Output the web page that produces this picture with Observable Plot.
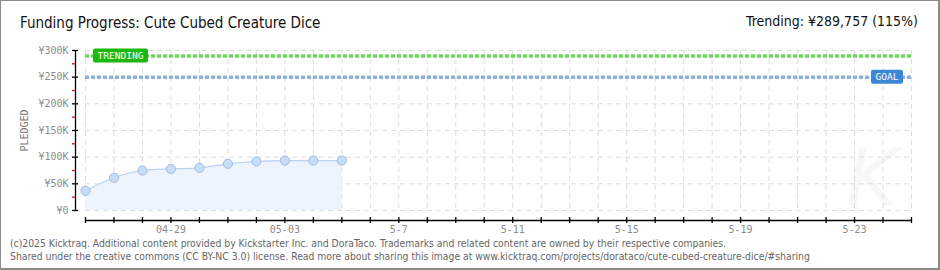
<!DOCTYPE html>
<html>
<head>
<meta charset="utf-8">
<script src="https://cdn.jsdelivr.net/npm/d3@7"></script>
<script src="https://cdn.jsdelivr.net/npm/@observablehq/plot@0.6"></script>
<style>
  html, body { margin: 0; padding: 0; background: #fff; }
  #wrap { position: relative; width: 940px; height: 270px; overflow: hidden; background: #fff; }
  #border { position: absolute; left: 0; top: 0; width: 940px; height: 270px; box-sizing: border-box;
            border: 1px solid #8a8a8a; border-right-width: 2px; border-bottom-width: 2px; pointer-events: none; }
  #title { position: absolute; left: 20px; top: 14px; font-family: "Liberation Sans Narrow", "DejaVu Sans Condensed", sans-serif;
           font-size: 15px; color: #111; white-space: nowrap; }
  #trend { position: absolute; right: 22px; top: 13px; font-family: "Liberation Sans Narrow", "DejaVu Sans Condensed", sans-serif;
           font-size: 14px; color: #111; white-space: nowrap; }
  #chart { position: absolute; left: 0; top: 40px; }
  #footer { position: absolute; left: 10px; top: 237px; font-family: "DejaVu Sans Condensed", "DejaVu Sans", sans-serif;
            font-size: 10.3px; line-height: 13px; color: #666; white-space: nowrap; }
</style>
</head>
<body>
<div id="wrap">
  <div id="title"></div>
  <div id="trend"></div>
  <div id="chart"></div>
  <div id="footer"></div>
  <div id="border"></div>
</div>
<script>
// ---- data ----
const titleText = "Funding Progress: Cute Cubed Creature Dice";
const trendText = "Trending:  ¥289,757 (115%)";
const footerLines = [
  "(c)2025 Kicktraq. Additional content provided by Kickstarter Inc. and DoraTaco. Trademarks and related content are owned by their respective companies.",
  "Shared under the creative commons (CC BY-NC 3.0) license. Read more about sharing this image at www.kicktraq.com/projects/dorataco/cute-cubed-creature-dice/#sharing"
];
const dates = ["2025-04-26","2025-04-27","2025-04-28","2025-04-29","2025-04-30","2025-05-01","2025-05-02","2025-05-03","2025-05-04","2025-05-05"];
const pledged = [36900, 61300, 75000, 78000, 80000, 87500, 91900, 93700, 93700, 93700];
const goal = 250000;
const trending = 289757;
const xDomain = ["2025-04-26", "2025-05-25"];
const xLabelDates = ["2025-04-29","2025-05-03","2025-05-07","2025-05-11","2025-05-15","2025-05-19","2025-05-23"];
const xLabels = ["04-29","05-03","5-7","5-11","5-15","5-19","5-23"];
const yTicks = [0, 50000, 100000, 150000, 200000, 250000, 300000];
const yTickLabels = ["¥0","¥50K","¥100K","¥150K","¥200K","¥250K","¥300K"];
const yMinorTicks = [25000, 75000, 125000, 175000, 225000, 275000];
const yLabel = "PLEDGED";
const trendLabel = "TRENDING";
const goalLabel = "GOAL";

document.getElementById("title").textContent = titleText;
document.getElementById("trend").textContent = trendText;
document.getElementById("footer").innerHTML = footerLines.map(s => `<div>${s}</div>`).join("");

const parse = d3.utcParse("%Y-%m-%d");
const data = dates.map((d, i) => ({date: parse(d), value: pledged[i]}));
const dom = xDomain.map(parse);
const dayTicks = d3.utcDay.range(dom[0], d3.utcDay.offset(dom[1], 1));
const labelMap = new Map(xLabelDates.map((d, i) => [+parse(d), xLabels[i]]));
const yLabelMap = new Map(yTicks.map((t, i) => [t, yTickLabels[i]]));

const tickFont = "DejaVu Sans Mono, monospace";

// TRENDING and GOAL badges positioned via scales
const badgeMark = (index, scales, values, dims) => {
  const {x, y} = scales;
  const g = d3.create("svg:g");
  const tY = y(trending);
  const gY = y(goal);
  const tx0 = x(dom[0]) + 8, tw = 55;
  g.append("rect").attr("x", tx0).attr("y", tY - 7).attr("width", tw).attr("height", 14)
    .attr("rx", 2).attr("fill", "#1db80f");
  g.append("text").attr("x", tx0 + tw / 2).attr("y", tY).attr("dy", "0.35em").attr("text-anchor", "middle")
    .attr("fill", "#fff").attr("font-family", tickFont).attr("font-size", 9.5)
    .text(trendLabel);
  const gw = 32, gx0 = x(dom[1]) - 8 - gw;
  g.append("rect").attr("x", gx0).attr("y", gY - 7).attr("width", gw).attr("height", 14)
    .attr("rx", 2).attr("fill", "#3a87d6");
  g.append("text").attr("x", gx0 + gw / 2).attr("y", gY).attr("dy", "0.35em").attr("text-anchor", "middle")
    .attr("fill", "#fff").attr("font-family", tickFont).attr("font-size", 9.5)
    .text(goalLabel);
  return g.node();
};

const plot = Plot.plot({
  width: 940,
  height: 200,
  marginLeft: 85,
  marginRight: 29,
  marginTop: 10,
  marginBottom: 30,
  style: {background: "transparent", overflow: "visible"},
  x: {type: "utc", domain: dom},
  y: {domain: [0, 300000]},
  marks: [
    Plot.text(["K"], {frameAnchor: "bottom-right", dx: -14, dy: -6, fontSize: 78, fontStyle: "italic",
      fontFamily: "DejaVu Sans, sans-serif", fill: "#f7f7f7"}),
    Plot.gridY(yTicks, {stroke: "#dcdcdc", strokeOpacity: 1, strokeDasharray: "5,4", strokeWidth: 1}),
    Plot.gridX(dayTicks, {stroke: "#dcdcdc", strokeOpacity: 1, strokeDasharray: "5,4", strokeWidth: 1}),
    Plot.areaY(data, {x: "date", y: "value", fill: "#edf4fd", curve: "monotone-x"}),
    Plot.lineY(data, {x: "date", y: "value", stroke: "#b7d3f2", strokeWidth: 1.2, curve: "monotone-x"}),
    Plot.ruleY([goal], {stroke: "#8eb1dc", strokeWidth: 3.5, strokeDasharray: "4,2"}),
    Plot.ruleY([trending], {stroke: "#6ed75e", strokeWidth: 3.5, strokeDasharray: "4,2"}),
    Plot.dot(data, {x: "date", y: "value", r: 4.6, fill: "#c6ddf7", stroke: "#9dbbe0", strokeWidth: 1}),
    // x axis line and day ticks (offset below the plot)
    Plot.ruleY([0], {dy: 10, stroke: "#000", strokeWidth: 1.3}),
    Plot.ruleX(dayTicks, {x: d => d, y1: 0, y2: 0, dy: 10, insetTop: -3, insetBottom: -3, stroke: "#000", strokeWidth: 1.3}),
    // y axis line, major and minor ticks (offset left of the plot)
    Plot.ruleX([dom[0]], {y1: 0, y2: 300000, dx: -10, stroke: "#000", strokeWidth: 1.3}),
    Plot.ruleY(yTicks, {y: d => d, x1: dom[0], x2: dom[0], dx: -10, insetLeft: -3, insetRight: -3, stroke: "#000", strokeWidth: 1.3}),
    Plot.ruleY(yMinorTicks, {y: d => d, x1: dom[0], x2: dom[0], dx: -10, insetLeft: -3, insetRight: 0, stroke: "#e00", strokeWidth: 1.3}),
    badgeMark,
    Plot.axisY(yTicks, {anchor: "left", tickSize: 0, tickPadding: 17, tickFormat: t => yLabelMap.get(t),
      fontFamily: tickFont, fontSize: 10, fill: "#8c8c8c", label: null}),
    Plot.text([yLabel], {frameAnchor: "left", dx: -61, rotate: -90, fontFamily: tickFont, fontSize: 10,
      fill: "#777", textAnchor: "middle"}),
    Plot.axisX(xLabelDates.map(parse), {anchor: "bottom", tickSize: 0, tickPadding: 15,
      tickFormat: d => labelMap.get(+d), fontFamily: tickFont, fontSize: 10, fill: "#8c8c8c", label: null})
  ]
});
document.getElementById("chart").appendChild(plot);
</script>
</body>
</html>
